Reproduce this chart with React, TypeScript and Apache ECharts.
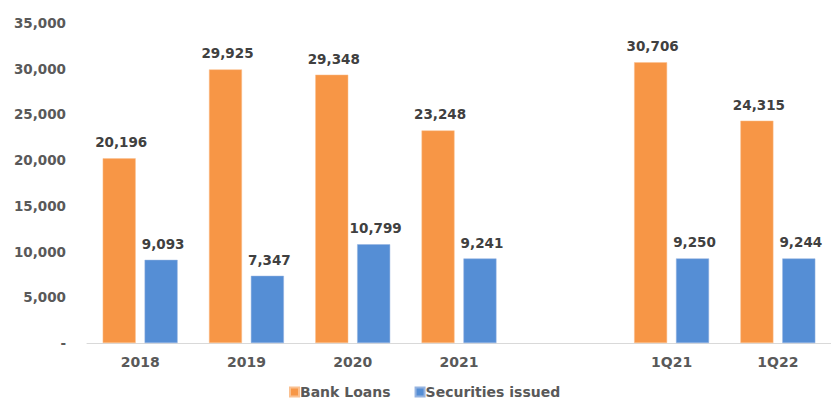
import React, { useEffect, useRef } from "react";
import * as echarts from "echarts";

const categories = ["2018", "2019", "2020", "2021", "", "1Q21", "1Q22"];
const bankLoans = [20196, 29925, 29348, 23248, null, 30706, 24315];
const securitiesIssued = [9093, 7347, 10799, 9241, null, 9250, 9244];
const seriesNames = ["Bank Loans", "Securities issued"];

const FONT = "DejaVu Sans";

export default function App() {
  const ref = useRef<HTMLDivElement>(null);
  useEffect(() => {
    if (!ref.current) return;
    const chart = echarts.init(ref.current, null, { renderer: "svg" });
    const fmt = (v: number) => v.toLocaleString("en-US");
    const label = {
      show: true,
      position: "top",
      distance: 9,
      offset: [2, 0],
      fontFamily: FONT,
      fontSize: 13.5,
      fontWeight: "bold",
      color: "#404040",
      formatter: (p: any) => fmt(p.value),
    };
    chart.setOption({
      animation: false,
      backgroundColor: "#ffffff",
      grid: { left: 87, right: 0, top: 23, bottom: 58, containLabel: false },
      legend: {
        top: 380,
        left: 284,
        itemWidth: 9,
        itemHeight: 9,
        itemGap: 24,
        icon: "rect",
        textStyle: { fontFamily: FONT, fontSize: 14, fontWeight: "bold", color: "#595959", padding: [0, 0, 0, -4] },
        data: seriesNames,
      },
      xAxis: {
        type: "category",
        data: categories,
        axisLine: { lineStyle: { color: "#d9d9d9", width: 1 } },
        axisTick: { show: false },
        axisLabel: { fontFamily: FONT, fontSize: 14, fontWeight: "bold", color: "#595959", margin: 12 },
      },
      yAxis: {
        type: "value",
        min: 0,
        max: 35000,
        interval: 5000,
        splitLine: { show: false },
        axisLine: { show: false },
        axisTick: { show: false },
        axisLabel: {
          fontFamily: FONT,
          fontSize: 13.5,
          fontWeight: "bold",
          color: "#595959",
          margin: 21,
          formatter: (v: number) => (v === 0 ? "-" : fmt(v)),
        },
      },
      series: [
        {
          name: seriesNames[0],
          type: "bar",
          data: bankLoans,
          barWidth: 33,
          barGap: "27%",
          itemStyle: { color: "#F79646", borderColor: "#FAC090", borderWidth: 0.5 },
          label,
        },
        {
          name: seriesNames[1],
          type: "bar",
          data: securitiesIssued,
          barWidth: 33,
          barGap: "27%",
          itemStyle: { color: "#558ED5", borderColor: "#95B3E0", borderWidth: 0.5 },
          label,
        },
      ],
    });
    return () => chart.dispose();
  }, []);
  return <div ref={ref} style={{ width: 831, height: 401, position: "absolute", left: 0, top: 0 }} />;
}
